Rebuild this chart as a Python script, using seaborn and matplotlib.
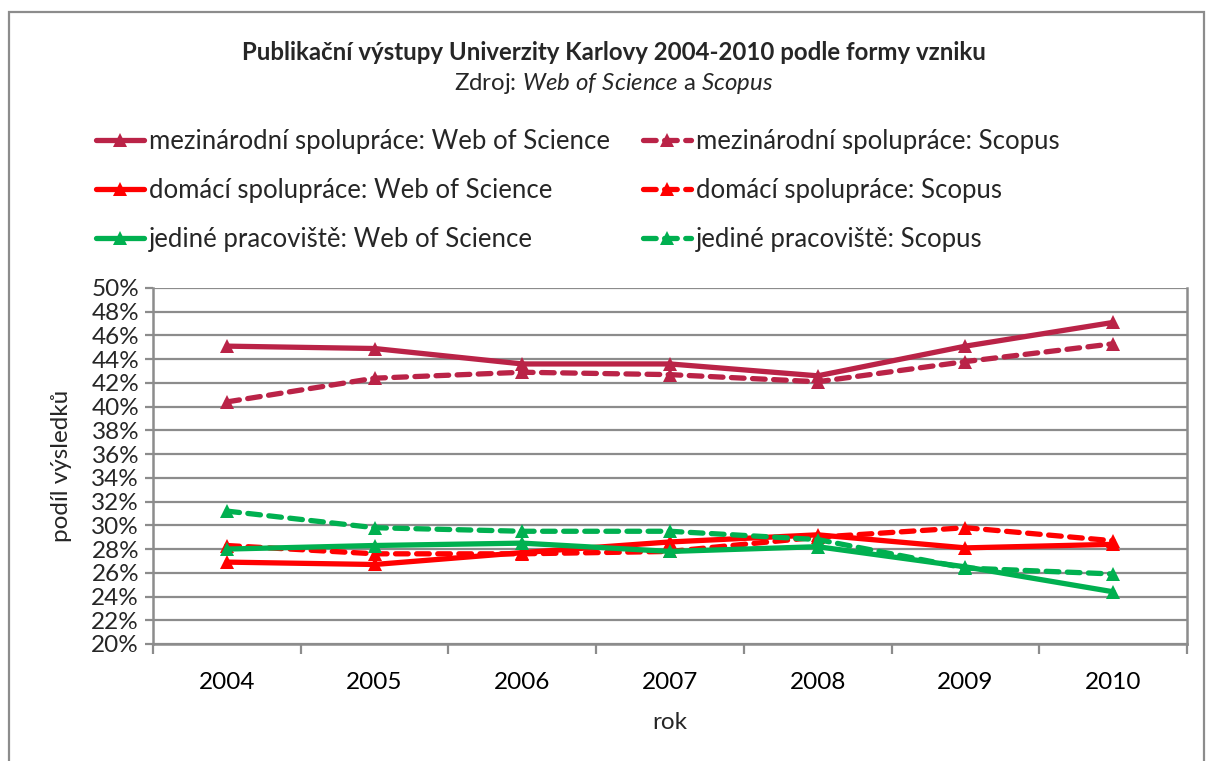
import numpy as np
import pandas as pd
import matplotlib
matplotlib.use("Agg")
import matplotlib.pyplot as plt
from matplotlib.lines import Line2D
from matplotlib.patches import Rectangle
from matplotlib.ticker import FixedLocator, FuncFormatter
import seaborn as sns

years = [2004, 2005, 2006, 2007, 2008, 2009, 2010]
mez_wos = [45.1, 44.9, 43.6, 43.6, 42.6, 45.1, 47.1]
mez_scopus = [40.4, 42.4, 42.9, 42.7, 42.1, 43.8, 45.3]
dom_wos = [26.9, 26.7, 27.7, 28.6, 29.2, 28.1, 28.4]
dom_scopus = [28.3, 27.6, 27.6, 27.8, 29.0, 29.8, 28.7]
jed_wos = [28.0, 28.3, 28.5, 27.8, 28.2, 26.5, 24.4]
jed_scopus = [31.2, 29.8, 29.5, 29.5, 28.8, 26.4, 25.9]

forms = ["mezinárodní spolupráce", "domácí spolupráce", "jediné pracoviště"]
sources = ["Web of Science", "Scopus"]
y_ticks = list(range(20, 51, 2))

series = {
    (forms[0], sources[0]): mez_wos,
    (forms[0], sources[1]): mez_scopus,
    (forms[1], sources[0]): dom_wos,
    (forms[1], sources[1]): dom_scopus,
    (forms[2], sources[0]): jed_wos,
    (forms[2], sources[1]): jed_scopus,
}
rows = []
for (f, s), vals in series.items():
    for yr, v in zip(years, vals):
        rows.append({"rok": yr, "podil": v, "forma": f, "zdroj": s})
df = pd.DataFrame(rows)

palette = {forms[0]: "#BA2347", forms[1]: "#FF0000", forms[2]: "#00B050"}
dash_pat = (2.4, 1.6)

sns.set_theme(style="white")
plt.rcParams["font.family"] = ["Lato", "DejaVu Sans"]
plt.rcParams["mathtext.fontset"] = "custom"
plt.rcParams["mathtext.rm"] = "Lato"
plt.rcParams["mathtext.it"] = "Lato:italic"

fig = plt.figure(figsize=(12.06, 7.61), dpi=100)
ax = fig.add_axes([153 / 1206, 1 - 644 / 761, (1187 - 153) / 1206, (644 - 288) / 761])

sns.lineplot(data=df, x="rok", y="podil", hue="forma", style="zdroj",
             palette=palette, hue_order=forms, style_order=sources,
             dashes={sources[0]: "", sources[1]: dash_pat},
             markers={sources[0]: "^", sources[1]: "^"},
             markersize=10, markeredgewidth=0, linewidth=3.8,
             legend=False, ax=ax)
for ln in ax.get_lines():
    ln.set_dash_capstyle("round")
    ln.set_solid_capstyle("round")

grid_c = "#8C8C8C"
fs = 17.5
ax.set_xlim(2003.5, 2010.5)
ax.set_ylim(20, 50)
ax.yaxis.set_major_locator(FixedLocator(y_ticks))
ax.yaxis.set_major_formatter(FuncFormatter(lambda v, p: f"{v:.0f}%"))
ax.grid(axis="y", color=grid_c, linewidth=1.6)
ax.set_axisbelow(True)
ax.xaxis.set_major_locator(FixedLocator(years))
ax.xaxis.set_minor_locator(FixedLocator([y + 0.5 for y in [2003] + years]))
ax.tick_params(axis="x", which="major", length=0, pad=20, labelsize=fs, colors="black")
ax.tick_params(axis="x", which="minor", length=7, width=1.6, color=grid_c, direction="out", bottom=True)
ax.tick_params(axis="y", length=6, width=1.6, color=grid_c, direction="out", left=True, pad=4, labelsize=fs)
for sp in ["left", "bottom", "right"]:
    ax.spines[sp].set_color(grid_c)
    ax.spines[sp].set_linewidth(1.8)
ax.spines["top"].set_visible(False)

ax.set_xlabel("rok", fontsize=fs, labelpad=14)
ax.set_ylabel("podíl výsledků", fontsize=fs, labelpad=14)

fig.text(614 / 1206, 1 - 52 / 761, "Publikační výstupy Univerzity Karlovy 2004-2010 podle formy vzniku",
         ha="center", va="center", fontsize=17.3, fontweight="bold")
fig.text(614 / 1206, 1 - 83 / 761, "Zdroj: $\\it{Web\\ of\\ Science}$ a $\\it{Scopus}$",
         ha="center", va="center", fontsize=17.3)

handles, labels = [], []
for s in sources:
    for f in forms:
        handles.append(Line2D([], [], color=palette[f], linewidth=3.8,
                              linestyle="-" if s == sources[0] else (0, dash_pat),
                              marker="^", markersize=10, markeredgewidth=0,
                              dash_capstyle="round"))
        labels.append(f"{f}: {s}")
leg = fig.legend(handles, labels, ncol=2, loc="upper left",
                 bbox_to_anchor=(96 / 1206, 1 - 129 / 761), frameon=False,
                 fontsize=18.5, handlelength=1.85, handletextpad=0.2,
                 columnspacing=1.3, labelspacing=0.93, borderaxespad=0,
                 borderpad=0)

fig.patches.append(Rectangle((9 / 1206, -0.01), (1204 - 9) / 1206, 1 - 12 / 761 + 0.01,
                             transform=fig.transFigure, fill=False,
                             edgecolor="#8C8C8C", linewidth=1.6))

fig.savefig("out.png", dpi=100)
